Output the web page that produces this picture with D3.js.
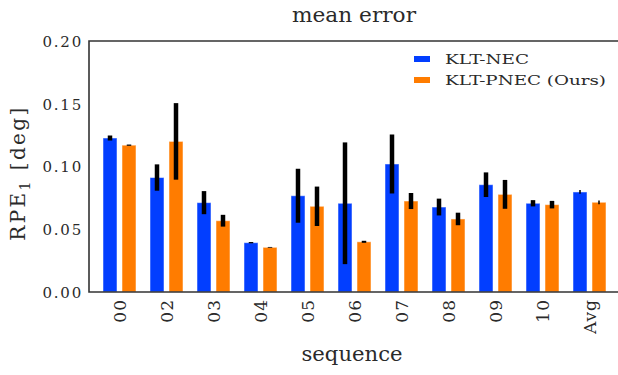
<!DOCTYPE html>
<html>
<head>
<meta charset="utf-8">
<script src="https://cdn.jsdelivr.net/npm/d3@7"></script>
<style>
  body { margin: 0; background: #fff; }
  svg text { font-family: "DejaVu Serif", serif; fill: #2a2a2a; }
</style>
</head>
<body>
<div id="chart"></div>
<script>
// data
const sequences = ['00', '02', '03', '04', '05', '06', '07', '08', '09', '10', 'Avg'];
const series = ['KLT-NEC', 'KLT-PNEC (Ours)'];
const necMean  = [0.1227, 0.0912, 0.0712, 0.0393, 0.0767, 0.0707, 0.1020, 0.0677, 0.0855, 0.0707, 0.0797];
const necStd   = [0.0020, 0.0105, 0.0092, 0.0005, 0.0215, 0.0485, 0.0235, 0.0067, 0.0098, 0.0025, 0.0015];
const pnecMean = [0.1170, 0.1200, 0.0568, 0.0356, 0.0683, 0.0400, 0.0725, 0.0582, 0.0778, 0.0696, 0.0715];
const pnecStd  = [0.0005, 0.0305, 0.0047, 0.0003, 0.0157, 0.0008, 0.0064, 0.0050, 0.0115, 0.0030, 0.0015];
const yTicks = [0.00, 0.05, 0.10, 0.15, 0.20];

const W = 618, H = 375;
const colors = ['#023eff', '#ff7c00'];

const svg = d3.select('#chart').append('svg')
  .attr('width', W).attr('height', H);

// scales
const x0 = d3.scaleBand()
  .domain(sequences)
  .range([89, 620])
  .paddingInner(14 / 47)
  .paddingOuter(14 / 47);
const x1 = d3.scaleBand()
  .domain(series)
  .range([0, x0.bandwidth()])
  .paddingInner(5 / 19);
const y = d3.scaleLinear().domain([0, 0.2]).range([292, 41]);

const rows = sequences.map((s, i) => ({
  seq: s,
  vals: [
    { key: series[0], mean: necMean[i], std: necStd[i] },
    { key: series[1], mean: pnecMean[i], std: pnecStd[i] }
  ]
}));

// bars
const grp = svg.selectAll('.grp')
  .data(rows)
  .enter().append('g')
  .attr('class', 'grp')
  .attr('transform', d => `translate(${x0(d.seq)},0)`);

grp.selectAll('rect')
  .data(d => d.vals)
  .enter().append('rect')
  .attr('x', d => x1(d.key))
  .attr('y', d => y(d.mean))
  .attr('width', x1.bandwidth())
  .attr('height', d => y(0) - y(d.mean))
  .attr('fill', (d, i) => colors[i])
  .attr('stroke', '#fff')
  .attr('stroke-opacity', 0.5)
  .attr('stroke-width', 1);

// error bars (Avg drawn thin)
grp.each(function (r) {
  d3.select(this).selectAll('line')
    .data(r.vals)
    .enter().append('line')
    .attr('x1', d => x1(d.key) + x1.bandwidth() / 2)
    .attr('x2', d => x1(d.key) + x1.bandwidth() / 2)
    .attr('y1', d => y(d.mean - d.std))
    .attr('y2', d => y(d.mean + d.std))
    .attr('stroke', '#000')
    .attr('stroke-width', r.seq === 'Avg' ? 1.5 : 4.5);
});

// axes
const yAxis = svg.append('g')
  .attr('transform', 'translate(89,0)')
  .call(d3.axisLeft(y).tickValues(yTicks).tickSize(0).tickPadding(6).tickFormat(d3.format('.2f')));
yAxis.select('.domain').remove();
yAxis.selectAll('text')
  .style('font-size', '15px')
  .style('letter-spacing', '1.8px')
  .attr('dy', '0.36em');

const xAxis = svg.append('g')
  .attr('transform', 'translate(0,292)')
  .call(d3.axisBottom(x0).tickSize(0));
xAxis.select('.domain').remove();
xAxis.selectAll('text')
  .style('font-size', '17px')
  .style('letter-spacing', '1px')
  .attr('transform', 'rotate(-90)')
  .attr('text-anchor', 'end')
  .attr('x', -7)
  .attr('y', 0)
  .attr('dy', '0.36em');

// frame
svg.append('path')
  .attr('d', 'M620,41H89V292H620')
  .attr('fill', 'none')
  .attr('stroke', '#333')
  .attr('stroke-width', 1.6);

// titles
svg.append('text')
  .attr('x', 354).attr('y', 22)
  .attr('text-anchor', 'middle')
  .attr('textLength', 124)
  .attr('lengthAdjust', 'spacingAndGlyphs')
  .style('font-size', '20px')
  .text('mean error');

svg.append('text')
  .attr('x', 352).attr('y', 361)
  .attr('text-anchor', 'middle')
  .attr('textLength', 101)
  .attr('lengthAdjust', 'spacingAndGlyphs')
  .style('font-size', '20px')
  .text('sequence');

const yl = svg.append('text')
  .attr('transform', 'translate(25,173) rotate(-90)')
  .attr('text-anchor', 'middle')
  .style('font-size', '20px')
  .style('letter-spacing', '2.4px');
yl.append('tspan').text('RPE');
yl.append('tspan').attr('dy', 5).style('font-size', '14px').text('1');
yl.append('tspan').attr('dy', -5).text(' [deg]');

// legend
const legWidths = [84, 161];
const leg = svg.append('g').attr('transform', 'translate(414,59)');
series.forEach((s, i) => {
  leg.append('rect')
    .attr('x', 0).attr('y', i * 21 - 3)
    .attr('width', 16).attr('height', 6)
    .attr('fill', colors[i]);
  leg.append('text')
    .attr('x', 31).attr('y', i * 21 + 5)
    .attr('textLength', legWidths[i])
    .attr('lengthAdjust', 'spacingAndGlyphs')
    .style('font-size', '13.5px')
    .text(s);
});
</script>
</body>
</html>
